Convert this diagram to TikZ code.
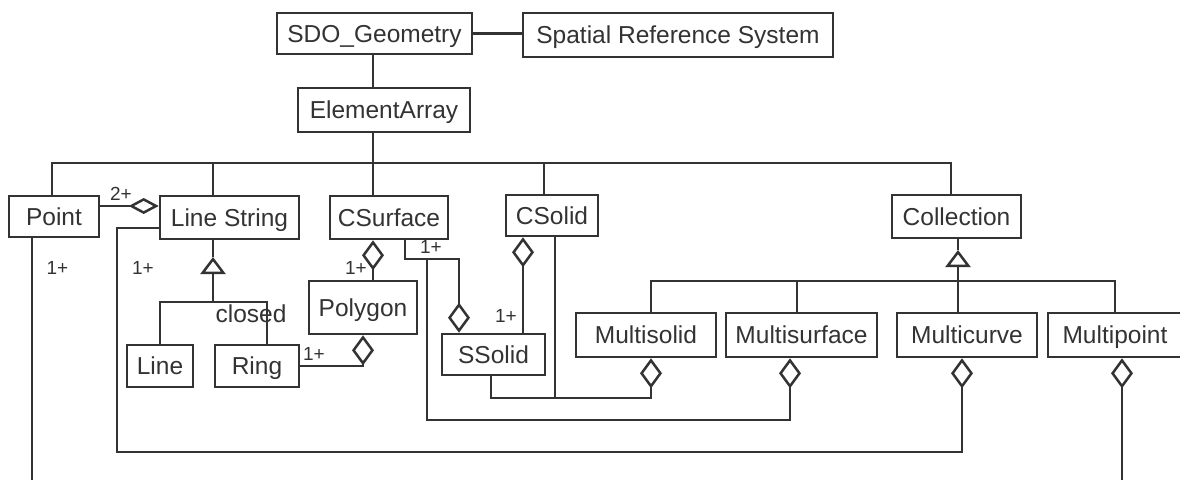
\documentclass[tikz,border=0pt]{standalone}
\usepackage{fontspec}
\setmainfont{Liberation Sans}
\usetikzlibrary{arrows.meta}
\definecolor{ink}{HTML}{333333}
\begin{document}
\begin{tikzpicture}[x=1pt,y=-1pt,
  box/.style={draw=ink, line width=2.6pt, inner sep=0pt, text=ink,
    font=\fontsize{24.5}{28}\selectfont, text height=17.5pt, text depth=0pt},
  sz/.style 2 args={minimum width=#1pt, minimum height=#2pt},
  conn/.style={draw=ink, line width=2.5pt},
  agg/.style={conn, -{Diamond[open,length=30pt,width=22pt]}},
  aggh/.style={conn, -{Diamond[open,length=30pt,width=16pt]}},
  gen/.style={conn, -{Triangle[open,length=17pt,width=25pt]}},
  mult/.style={text=ink, inner sep=0pt, font=\fontsize{19}{22}\selectfont},
  note/.style={text=ink, inner sep=0pt, font=\fontsize{24.5}{28}\selectfont},
]
\fill[white] (0,0) rectangle (1180,479);
\useasboundingbox (0,0) rectangle (1180,479);
\clip (0,0) rectangle (1180,479);

% classes
\node[box,sz={195}{41}] (sdo) at (374.5,33.5) {SDO\_Geometry};
\node[box,sz={310}{44}] (srs) at (678,35) {Spatial Reference System};
\node[box,sz={172}{44}] (ea) at (384,110) {ElementArray};
\node[box,sz={90}{41}] (point) at (54,216.5) {Point};
\node[box,sz={139}{43}] (ls) at (229.5,217.5) {Line String};
\node[box,sz={118}{43}] (csurf) at (389,217.5) {CSurface};
\node[box,sz={92}{41}] (csolid) at (552,215.5) {CSolid};
\node[box,sz={129}{43}] (coll) at (956.5,216.5) {Collection};
\node[box,sz={66}{42}] (line) at (160,366) {Line};
\node[box,sz={84}{42}] (ring) at (257,366) {Ring};
\node[box,sz={108}{53}] (poly) at (363,307.5) {Polygon};
\node[box,sz={103}{41}] (ssolid) at (493.5,354.5) {SSolid};
\node[box,sz={140}{44}] (msolid) at (646,335) {Multisolid};
\node[box,sz={151}{44}] (msurf) at (801.5,335) {Multisurface};
\node[box,sz={140}{44}] (mcurve) at (967,335) {Multicurve};
\node[box,sz={134}{44}] (mpoint) at (1115,335) {Multipoint};

% helper points for bends and free ends
\coordinate (busR) at (951,163);
\coordinate (gbar) at (213,302);
\coordinate (gtip) at (213,257);
\coordinate (b1) at (459,259);
\coordinate (b2) at (427,259);
\coordinate (b3) at (427,420);
\coordinate (b4) at (491,398);
\coordinate (b5) at (117,452);
\coordinate (cbar) at (797,281);
\coordinate (ctip) at (958,250);
\coordinate (ptend) at (32,485);
\coordinate (mpend) at (1122,485);

% top of the hierarchy
\draw[conn] (sdo.east) -- (sdo.east -| srs.west);
\draw[conn] ([xshift=-1.5pt]sdo.south) -- ([xshift=-11pt]ea.north);
\draw[conn] ([xshift=-11pt]ea.south) -- ([xshift=-11pt]ea.south |- busR);
\draw[conn] ([xshift=-2pt]point.north) |- (busR) -- ([xshift=-5.5pt]coll.north);
\draw[conn] ([xshift=-16.5pt]ls.north) -- ([xshift=-16.5pt]ls.north |- busR);
\draw[conn] ([xshift=-16pt]csurf.north) -- ([xshift=-16pt]csurf.north |- busR);
\draw[conn] ([xshift=-8pt]csolid.north) -- ([xshift=-8pt]csolid.north |- busR);

% point / line string
\draw[aggh] ([yshift=10.5pt]point.east) -- ([yshift=10.5pt]point.east -| ls.west);
\node[mult] (m2p) at (121,194) {2+};
\draw[conn] ([xshift=-22pt]point.south) -- (ptend);
\node[mult] (m1a) at (57.5,268) {1+};

% line string specialisations
\draw[conn] (line.north) |- (gbar) -| ([xshift=10pt]ring.north);
\draw[gen] (gbar) -- (gtip);
\draw[conn] (gtip) -- (gtip |- ls.south);
\node[note] (closed) at (251,314) {closed};

% line strings in multicurves
\draw[agg] ([yshift=-10.5pt]ls.west) -| (b5) -| ([xshift=-5pt]mcurve.south);
\node[mult] (m1b) at (143,268) {1+};

% rings in polygons, polygons in surfaces
\draw[agg] (ring.east) -| (poly.south);
\node[mult] (m1c) at (314,354) {1+};
\draw[agg] ([xshift=10pt]poly.north) -- ([xshift=10pt]poly.north |- csurf.south);
\node[mult] (m1d) at (356,268) {1+};

% surfaces in solids and multisurfaces
\draw[agg] ([xshift=16pt]csurf.south) |- (b1) -- (b1 |- ssolid.north);
\node[mult] (m1e) at (431,247) {1+};
\draw[agg] (b2) -- (b3) -| ([xshift=-11.5pt]msurf.south);

% solids
\draw[agg] ([xshift=29.5pt]ssolid.north) -- ([xshift=29.5pt]ssolid.north |- csolid.south);
\node[mult] (m1f) at (506,316) {1+};
\draw[agg] ([xshift=-2.5pt]ssolid.south) |- (b4) -| ([xshift=5pt]msolid.south);
\draw[conn] ([xshift=3pt]csolid.south) -- ([xshift=3pt]csolid.south |- b4);

% collection specialisations
\draw[conn] ([xshift=5pt]msolid.north) |- (cbar) -| (mpoint.north);
\draw[conn] ([xshift=-4.5pt]msurf.north) -- ([xshift=-4.5pt]msurf.north |- cbar);
\draw[gen] ([xshift=-9pt]mcurve.north) -- (ctip);
\draw[conn] (ctip) -- (ctip |- coll.south);

% points in multipoints
\draw[agg] (mpend) -- ([xshift=7pt]mpoint.south);
\end{tikzpicture}
\end{document}
